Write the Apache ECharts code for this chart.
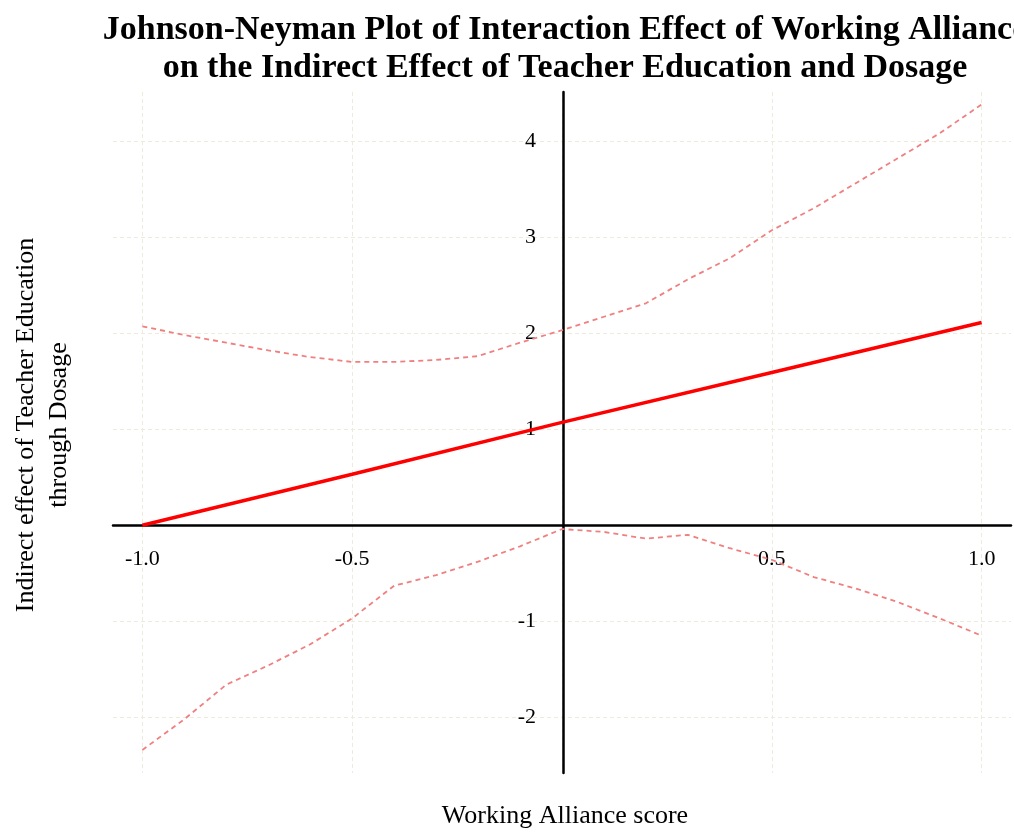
<!DOCTYPE html>
<html>
<head>
<meta charset="utf-8">
<script src="https://cdn.jsdelivr.net/npm/echarts@6.0.0/dist/echarts.min.js"></script>
<style>
  html, body { margin: 0; padding: 0; background: #fff; }
  #jnContainer { width: 1014px; height: 832px; }
</style>
</head>
<body>
<div id="jnContainer"></div>
<script>
// Working Alliance score (moderator values)
var waScore = [-1.0, -0.9, -0.8, -0.7, -0.6, -0.5, -0.4, -0.3, -0.2, -0.1, 0.0,
               0.1, 0.2, 0.3, 0.4, 0.5, 0.6, 0.7, 0.8, 0.9, 1.0];
// confidence band
var upperCI = [2.07, 1.98, 1.90, 1.82, 1.75, 1.70, 1.70, 1.72, 1.76, 1.90, 2.03,
               2.17, 2.31, 2.56, 2.78, 3.07, 3.30, 3.56, 3.82, 4.08, 4.38];
var lowerCI = [-2.34, -2.02, -1.66, -1.46, -1.24, -0.97, -0.63, -0.52, -0.38, -0.22, -0.04,
               -0.07, -0.14, -0.10, -0.24, -0.36, -0.54, -0.66, -0.80, -0.97, -1.15];
// indirect effect (straight line)
var effectX = [-1.0, -0.5, 0.0, 0.5, 1.0];
var effectY = [0.00, 0.53, 1.07, 1.59, 2.11];

var titleText = 'Johnson-Neyman Plot of Interaction Effect of Working Alliance\non the Indirect Effect of Teacher Education and Dosage';
var xName = 'Working Alliance score';
var yName = 'Indirect effect of Teacher Education\nthrough Dosage';

function pairs(xs, ys) {
    return xs.map(function (x, i) { return [x, ys[i]]; });
}

var dom = document.getElementById('jnContainer');
var myChart = echarts.init(dom);
var serif = 'Liberation Serif';
var gridLine = {
    show: true, showMinLine: false, showMaxLine: false,
    lineStyle: { color: '#ecebdc', type: [4, 3], width: 1 }
};

// plot box in pixels, axes are moved onto the zero lines with offset
var gLeft = 113, gRight = 1, gTop = 92, gBottom = 59;
var xMin = -1.07, xMax = 1.07, yMin = -2.58, yMax = 4.51;
var plotW = 1014 - gLeft - gRight, plotH = 832 - gTop - gBottom;
var yAxisOffset = -((0 - xMin) / (xMax - xMin) * plotW);
var xAxisOffset = -((0 - yMin) / (yMax - yMin) * plotH);

var option = {
    animation: false,
    backgroundColor: '#fff',
    grid: { left: gLeft, right: gRight, top: gTop, bottom: gBottom },
    graphic: [
        {
            type: 'text', x: 565, y: 49,
            style: {
                text: titleText, font: 'bold 34px "Liberation Serif"', fill: '#000',
                align: 'center', verticalAlign: 'middle', textAlign: 'center', textVerticalAlign: 'middle',
                lineHeight: 38
            }
        },
        {
            type: 'text', x: 565, y: 816,
            style: {
                text: xName, font: '26px "Liberation Serif"', fill: '#000',
                align: 'center', verticalAlign: 'middle', textAlign: 'center', textVerticalAlign: 'middle'
            }
        },
        {
            type: 'text', x: 43, y: 425, rotation: Math.PI / 2,
            style: {
                text: yName, font: '26px "Liberation Serif"', fill: '#000',
                align: 'center', verticalAlign: 'middle', textAlign: 'center', textVerticalAlign: 'middle',
                lineHeight: 33
            }
        }
    ],
    xAxis: {
        type: 'value',
        position: 'bottom',
        offset: xAxisOffset,
        min: xMin,
        max: xMax,
        splitNumber: 4,
        axisLine: { onZero: false, lineStyle: { color: '#000', width: 2.5 } },
        axisTick: { show: false },
        axisLabel: {
            margin: 23, fontFamily: serif, fontSize: 22, color: '#000',
            formatter: function (v) {
                if (Math.abs(v) < 1e-9) return '';
                if (Math.abs(v * 2 - Math.round(v * 2)) > 1e-6) return '';
                return v.toFixed(1);
            }
        },
        splitLine: gridLine
    },
    yAxis: {
        type: 'value',
        position: 'left',
        offset: yAxisOffset,
        min: yMin,
        max: yMax,
        splitNumber: 7,
        axisLine: { onZero: false, lineStyle: { color: '#000', width: 2.5 } },
        axisTick: { show: false },
        axisLabel: {
            margin: 27, fontFamily: serif, fontSize: 22, color: '#000',
            formatter: function (v) {
                if (Math.abs(v) < 1e-9) return '';
                if (Math.abs(v - Math.round(v)) > 1e-6) return '';
                return String(Math.round(v));
            }
        },
        splitLine: gridLine
    },
    series: [
        {
            name: 'upper', type: 'line', data: pairs(waScore, upperCI),
            showSymbol: false, silent: true,
            lineStyle: { color: '#f08080', width: 1.8, type: [5, 4] }
        },
        {
            name: 'lower', type: 'line', data: pairs(waScore, lowerCI),
            showSymbol: false, silent: true,
            lineStyle: { color: '#f08080', width: 1.8, type: [5, 4] }
        },
        {
            name: 'effect', type: 'line', data: pairs(effectX, effectY),
            showSymbol: false, silent: true,
            lineStyle: { color: '#ff0000', width: 3.5 }
        }
    ]
};
myChart.setOption(option);
</script>
</body>
</html>
